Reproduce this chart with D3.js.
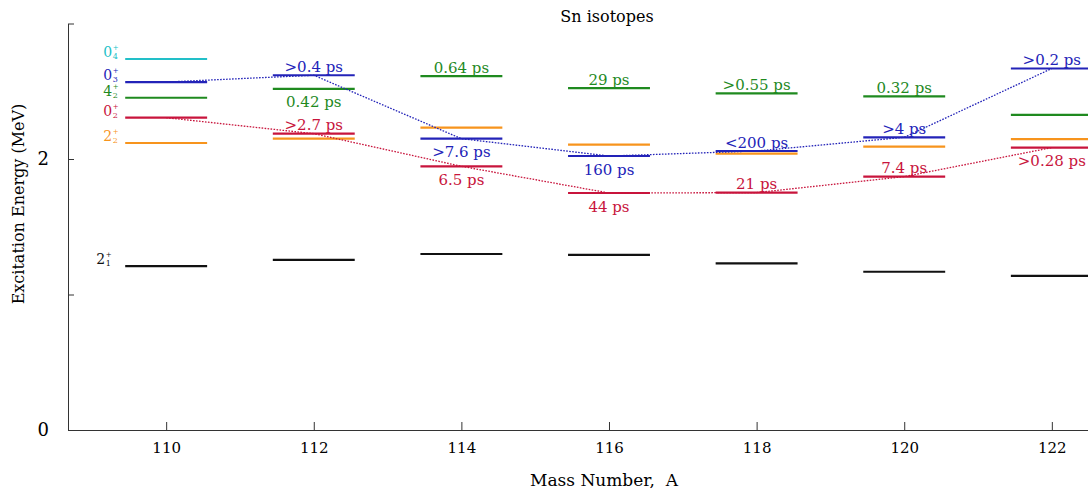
<!DOCTYPE html>
<html>
<head>
<meta charset="utf-8">
<script src="https://cdn.jsdelivr.net/npm/d3@7"></script>
<style>
  body { margin: 0; background: #fff; }
  text { font-family: "DejaVu Serif", serif; }
</style>
</head>
<body>
<div id="chart"></div>
<script>
// mass numbers of the isotopes
const masses = [110, 112, 114, 116, 118, 120, 122];

// level energies (MeV), one array per state, null = not shown
const e21 = [1.209, 1.255, 1.299, 1.292, 1.230, 1.168, 1.137];
const e22 = [2.118, 2.150, 2.231, 2.106, 2.040, 2.091, 2.147];
const e02 = [2.305, 2.187, 1.946, 1.749, 1.752, 1.870, 2.084];
const e42 = [2.452, 2.517, 2.611, 2.523, 2.484, 2.462, 2.325];
const e03 = [2.568, 2.618, 2.150, 2.022, 2.059, 2.160, 2.668];
const e04 = [2.738, null, null, null, null, null, null];

// lifetimes written next to the levels
const tau02 = [null, ">2.7 ps", "6.5 ps", "44 ps", "21 ps", "7.4 ps", ">0.28 ps"];
const tau02Side = [null, "above", "below", "below", "above", "above", "below"];
const tau03 = [null, ">0.4 ps", ">7.6 ps", "160 ps", "<200 ps", ">4 ps", ">0.2 ps"];
const tau03Side = [null, "above", "below", "below", "above", "above", "above"];
const tau42 = [null, "0.42 ps", "0.64 ps", "29 ps", ">0.55 ps", "0.32 ps", null];
const tau42Side = [null, "below", "above", "above", "above", "above", null];

// state names for the first column: spin, index
const stateSpin = ["2", "2", "0", "4", "0", "0"];
const stateIdx = ["1", "2", "2", "2", "3", "4"];

const yTicks = [0, 1, 2, 3];

const colors = {
  e21: "#111111",
  e22: "#f7941d",
  e02: "#c8143c",
  e42: "#1f8a1f",
  e03: "#2323b8",
  e04: "#22bfc8"
};

// draw order: orange under blue where they overlap
const series = [
  { key: "e21", vals: e21 },
  { key: "e22", vals: e22 },
  { key: "e02", vals: e02, tau: tau02, side: tau02Side },
  { key: "e42", vals: e42, tau: tau42, side: tau42Side },
  { key: "e03", vals: e03, tau: tau03, side: tau03Side },
  { key: "e04", vals: e04 }
];

const W = 1088, H = 489;
const svg = d3.select("#chart").append("svg")
  .attr("width", W)
  .attr("height", H);

const x = d3.scaleLinear().domain([108.67, 122.49]).range([68, 1088]);
const y = d3.scaleLinear().domain([0, 3]).range([430, 23.5]);
const halfW = 0.555;

// axes
svg.append("g")
  .attr("transform", "translate(0,430)")
  .call(d3.axisBottom(x).tickValues(masses).tickSize(-8).tickSizeOuter(0).tickPadding(12))
  .call(g => g.selectAll("text").attr("font-size", 15).attr("font-family", "DejaVu Serif"));

svg.append("g")
  .attr("transform", "translate(68,0)")
  .call(d3.axisLeft(y).tickValues(yTicks).tickSize(-6).tickSizeOuter(0).tickPadding(19)
    .tickFormat(d => (d === 0 || d === 2) ? d : ""))
  .call(g => g.selectAll("text").attr("font-size", 18).attr("font-family", "DejaVu Serif"));

svg.selectAll(".domain, .tick line").attr("stroke", "#333");

// levels
series.forEach(s => {
  const pts = masses.map((m, i) => ({ m: m, e: s.vals[i] })).filter(d => d.e != null);
  svg.append("g").selectAll("line")
    .data(pts)
    .enter().append("line")
    .attr("x1", d => x(d.m - halfW))
    .attr("x2", d => x(d.m + halfW))
    .attr("y1", d => y(d.e))
    .attr("y2", d => y(d.e))
    .attr("stroke", colors[s.key])
    .attr("stroke-width", 2.2);
});

// dotted lines joining the 0+ states
const line = d3.line().x(d => x(d.m)).y(d => y(d.e));
[["e02", e02], ["e03", e03]].forEach(([k, vals]) => {
  svg.append("path")
    .datum(masses.map((m, i) => ({ m: m, e: vals[i] })))
    .attr("fill", "none")
    .attr("stroke", colors[k])
    .attr("stroke-width", 1.3)
    .attr("stroke-dasharray", "1.6,1.4")
    .attr("d", line);
});

// lifetime labels
series.filter(s => s.tau).forEach(s => {
  const pts = masses.map((m, i) => ({ m: m, e: s.vals[i], t: s.tau[i], side: s.side[i] }))
    .filter(d => d.t != null);
  svg.append("g").selectAll("text")
    .data(pts)
    .enter().append("text")
    .attr("x", d => x(d.m))
    .attr("y", d => y(d.e) + (d.side === "above" ? -3.5 : 18.5))
    .attr("text-anchor", "middle")
    .attr("font-size", 15)
    .attr("fill", colors[s.key])
    .text(d => d.t);
});

// state labels at A = 110 (2+1 sits a bit further left)
series.forEach((s, i) => {
  const yy = y(s.vals[0]) - 2;
  const xr = x(110 - halfW) - (i === 0 ? 29 : 22);
  const g = svg.append("g").attr("fill", colors[s.key]);
  g.append("text")
    .attr("x", xr)
    .attr("y", yy)
    .attr("font-size", 14)
    .text(stateSpin[i]);
  g.append("text")
    .attr("x", xr + 9.5)
    .attr("y", yy - 7)
    .attr("font-size", 7)
    .text("+");
  g.append("text")
    .attr("x", xr + 9.5)
    .attr("y", yy + 2)
    .attr("font-size", 8)
    .text(stateIdx[i]);
});

// titles
svg.append("text")
  .attr("x", 607).attr("y", 22)
  .attr("text-anchor", "middle")
  .attr("font-size", 16)
  .text("Sn isotopes");

svg.append("text")
  .attr("x", 604).attr("y", 486)
  .attr("text-anchor", "middle")
  .attr("font-size", 17)
  .style("white-space", "pre")
  .text("Mass Number,  A");

svg.append("text")
  .attr("transform", "translate(24,204) rotate(-90)")
  .attr("text-anchor", "middle")
  .attr("font-size", 16)
  .text("Excitation Energy (MeV)");
</script>
</body>
</html>
